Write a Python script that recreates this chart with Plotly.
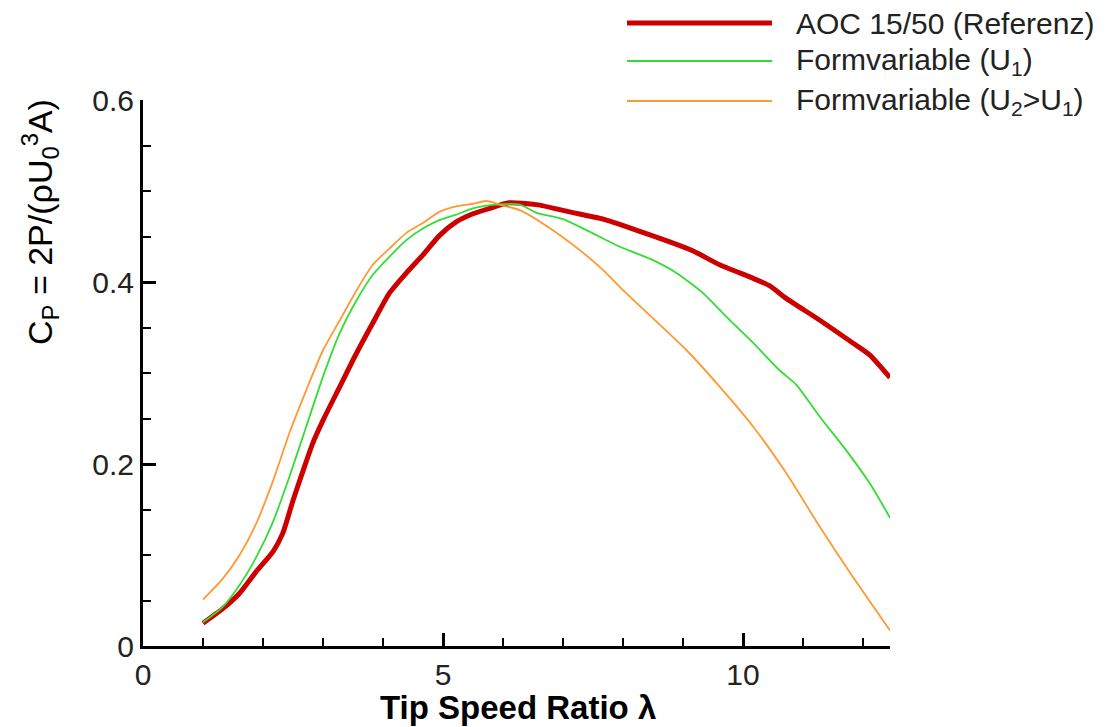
import plotly.graph_objects as go

# ---- data ----
red_x = [1.0, 1.33, 1.61, 1.89, 2.17, 2.33, 2.5, 2.67, 2.83, 3.0, 3.28, 3.56, 3.83, 4.11, 4.39, 4.67,
         4.94, 5.22, 5.5, 5.78, 6.1, 6.56, 7.11, 7.67, 8.22, 8.78, 9.17, 9.61, 10.17, 10.44, 10.72,
         11.28, 11.83, 12.11, 12.45]
red_y = [0.025, 0.041, 0.058, 0.082, 0.104, 0.124, 0.160, 0.193, 0.223, 0.248, 0.285, 0.322, 0.355,
         0.388, 0.410, 0.430, 0.451, 0.466, 0.475, 0.481, 0.487, 0.485, 0.477, 0.469, 0.457, 0.444,
         0.434, 0.419, 0.404, 0.396, 0.382, 0.358, 0.333, 0.320, 0.295]

green_x = [1.0, 1.33, 1.61, 1.89, 2.17, 2.44, 2.72, 3.0, 3.28, 3.56, 3.83, 4.11, 4.39, 4.67, 4.94,
           5.22, 5.5, 5.89, 6.28, 6.56, 7.0, 7.39, 7.94, 8.5, 8.89, 9.33, 9.72, 10.17, 10.61, 10.89,
           11.28, 11.72, 12.11, 12.45]
green_y = [0.026, 0.043, 0.067, 0.098, 0.137, 0.186, 0.241, 0.296, 0.344, 0.380, 0.408, 0.428, 0.446,
           0.459, 0.468, 0.474, 0.481, 0.485, 0.485, 0.476, 0.469, 0.457, 0.439, 0.424, 0.410, 0.388,
           0.362, 0.333, 0.303, 0.287, 0.252, 0.215, 0.179, 0.141]

orange_x = [1.0, 1.33, 1.61, 1.89, 2.17, 2.44, 2.72, 3.0, 3.28, 3.56, 3.83, 4.11, 4.39, 4.67, 4.94,
            5.22, 5.5, 5.72, 6.0, 6.28, 6.83, 7.28, 7.67, 7.94, 8.5, 9.06, 9.61, 10.17, 10.72, 11.28,
            11.83, 12.45]
orange_y = [0.051, 0.074, 0.100, 0.135, 0.182, 0.234, 0.281, 0.325, 0.358, 0.391, 0.419, 0.437, 0.454,
            0.465, 0.477, 0.483, 0.486, 0.489, 0.484, 0.479, 0.457, 0.435, 0.413, 0.395, 0.360, 0.325,
            0.285, 0.241, 0.190, 0.131, 0.076, 0.017]

series_names = ["AOC 15/50 (Referenz)", "Formvariable (U<sub>1</sub>)",
                "Formvariable (U<sub>2</sub>&gt;U<sub>1</sub>)"]
x_tick_vals = [0, 5, 10]
x_tick_text = ["0", "5", "10"]
y_tick_vals = [0, 0.2, 0.4, 0.6]
y_tick_text = ["0", "0.2", "0.4", "0.6"]

colors = ["#cc0000", "#33dd33", "#ff9933"]
widths = [5, 1.8, 1.8]

FONT = "Liberation Sans, Arial"

fig = go.Figure()
for xs, ys, name, c, w in zip([red_x, green_x, orange_x], [red_y, green_y, orange_y],
                              series_names, colors, widths):
    fig.add_trace(go.Scatter(x=xs, y=ys, mode="lines", name=name,
                             line=dict(color=c, width=w, shape="spline", smoothing=0.6),
                             showlegend=False))

# window-pixel geometry of the plot area (page body has an 8px margin)
OFF = 8
FW, FH = 1117 - OFF, 727 - OFF
L, R, T, B = 143, 890, 100, 646
W, H = R - L, B - T
def px(x):
    return (x - L) / W
def py(y):
    return (B - y) / H

# manual legend (outside plot, paper coords)
rows_y = [23, 61, 101]
for name, c, w, yy in zip(series_names, colors, widths, rows_y):
    fig.add_shape(type="line", xref="paper", yref="paper",
                  x0=px(627), x1=px(772), y0=py(yy), y1=py(yy),
                  line=dict(color=c, width=w))
    fig.add_annotation(xref="paper", yref="paper", x=px(795), y=py(yy),
                       text=name, showarrow=False, xanchor="left", yanchor="middle",
                       borderpad=0,
                       font=dict(family=FONT, size=30, color="#222"))

# y-axis title
fig.add_annotation(xref="paper", yref="paper", x=px(40), y=py(222),
                   text="C<sub>P</sub> = 2P/(ρU<sub>0</sub><sup>3</sup>A)",
                   textangle=-90, showarrow=False, xanchor="center", yanchor="middle",
                   font=dict(family=FONT, size=34, color="black"))

# x-axis title
fig.add_annotation(xref="paper", yref="paper", x=px(518), y=py(707),
                   text="<b>Tip Speed Ratio λ</b>",
                   showarrow=False, xanchor="center", yanchor="middle", borderpad=0,
                   font=dict(family=FONT, size=33, color="black"))

axis_common = dict(showline=True, linecolor="black", linewidth=3, mirror=False,
                   ticks="inside", ticklen=13, tickwidth=3, tickcolor="black",
                   showgrid=False, zeroline=False,
                   tickfont=dict(family=FONT, size=30, color="#222"))

fig.update_layout(
    width=FW, height=FH,
    margin=dict(l=L - OFF, r=FW - (R - OFF), t=T - OFF, b=FH - (B - OFF)),
    paper_bgcolor="white", plot_bgcolor="white",
    xaxis=dict(range=[0, 12.45], tickvals=x_tick_vals, ticktext=x_tick_text,
               minor=dict(ticks="inside", ticklen=8, tickwidth=1.5, tickcolor="black", dtick=1,
                          tick0=0, showgrid=False),
               **axis_common),
    yaxis=dict(range=[0, 0.6], tickvals=y_tick_vals, ticktext=y_tick_text,
               minor=dict(ticks="inside", ticklen=8, tickwidth=1.5, tickcolor="black", dtick=0.05,
                          tick0=0, showgrid=False),
               **axis_common),
)

fig.write_html("out.html")
